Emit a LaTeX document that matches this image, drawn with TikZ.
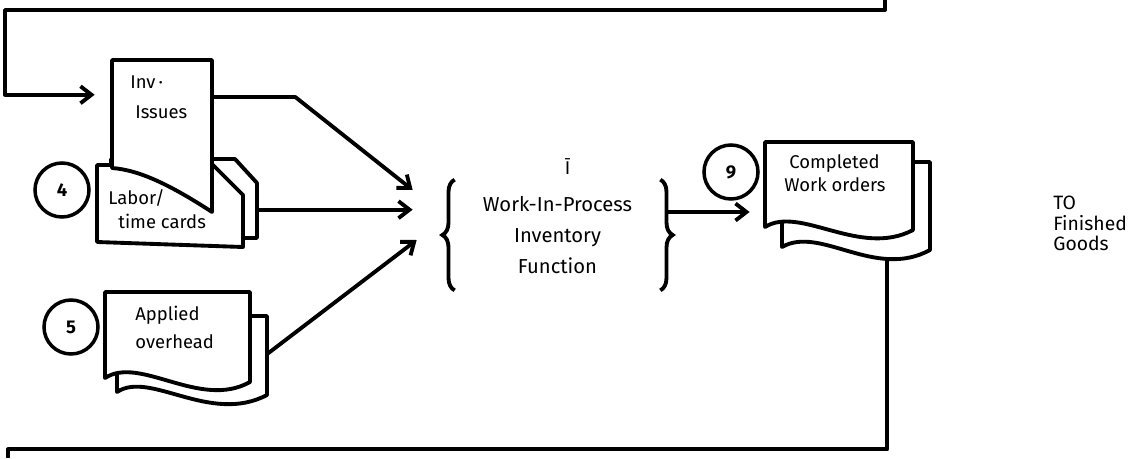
\documentclass[tikz,border=0pt]{standalone}
\usepackage{fontspec}
\setmainfont{Fira Sans}
\usetikzlibrary{positioning,arrows.meta,calc,decorations.pathreplacing}
\tikzset{
  doc-frame/.style={draw=none,inner sep=0pt},
  doc-sheet/.style={draw=black,line width=2.2pt,fill=white,line join=round},
  doc-text/.style={align=left,anchor=north west,inner sep=0pt,
    font=\fontsize{10.5}{14}\selectfont},
  ref-circle/.style={draw,circle,line width=2pt,minimum size=10.8mm,
    inner sep=0pt,font=\fontsize{10.5}{12}\selectfont\bfseries},
  flow-line/.style={line width=2.2pt,line join=round},
  flow-arrow/.style={flow-line,-{Straight Barb[length=2.2mm,width=3.4mm]}},
  brace-line/.style={decorate,decoration={brace,amplitude=7pt},line width=2.2pt},
}
\begin{document}
\begin{tikzpicture}[x=0.2mm,y=-0.2mm]
  \useasboundingbox (0,0) rectangle (1140,458);
  % sheets (back ones first)
  \draw[doc-sheet] (111,159) -- (235,159) -- (257,183) -- (257,238) -- (111,238) -- cycle;
  \draw[doc-sheet] (97,165) -- (213,165) -- (243,195) -- (243,247) -- (97,242) -- cycle;
  \draw[doc-sheet] (112,60) -- (212,60) -- (212,212)
    .. controls (172,186) and (140,170) .. (112,168) -- cycle;
  \draw[doc-sheet] (117,316) -- (267,316) -- (267,395)
    .. controls (210,425) and (150,370) .. (117,392) -- cycle;
  \draw[doc-sheet] (105,292) -- (250,292) -- (250,382)
    .. controls (200,410) and (140,355) .. (105,378) -- cycle;
  \draw[doc-sheet] (782,162) -- (930,162) -- (930,250)
    .. controls (875,280) and (820,225) .. (782,247) -- cycle;
  \draw[doc-sheet] (765,142) -- (913,142) -- (913,230)
    .. controls (860,258) and (800,205) .. (765,227) -- cycle;

  \node[doc-frame,minimum width=20mm,minimum height=30.4mm] (inv) at (162,136) {};
  \node[doc-frame,minimum width=32mm,minimum height=17.8mm] (labor) at (177,202.5) {};
  \node[doc-frame,minimum width=32.4mm,minimum height=20.6mm] (ovh) at (186,343.5) {};
  \node[doc-frame,minimum width=33mm,minimum height=23.4mm] (cwo) at (847.5,200.5) {};
  \node[minimum width=41mm,minimum height=22mm,align=center,inner sep=0pt,
    font=\fontsize{11.5}{17.5}\selectfont] (wip) at (557.5,235)
    {Work-In-Process\\Inventory\\Function};

  \node[doc-text] (inv-text) at (130,75) {Inv\,·\\[1.2mm]\hspace{1mm}Issues};
  \node[doc-text] (labor-text) at (108,189) {Labor/\\\hspace{2mm}time cards};
  \node[doc-text,font=\fontsize{10.5}{16}\selectfont] (ovh-text) at (135,306)
    {Applied\\overhead};
  \node[doc-text,font=\fontsize{10.5}{13.5}\selectfont] (cwo-text) at (784,154)
    {\hspace{1mm}Completed\\Work orders};
  \node[doc-text,font=\fontsize{11}{11.5}\selectfont] (fg-text) at (1053,196)
    {TO\\Finished\\Goods};
  \node[font=\fontsize{10.5}{12}\selectfont] (wip-ref) at ($(wip.north)+(10,-13)$) {\=I};

  \node[ref-circle] (ref-4) at (62,190) {4};
  \node[ref-circle] (ref-5) at (71,327) {5};
  \node[ref-circle] (ref-9) at (731,172) {9};

  \draw[brace-line] (wip.south west) -- (wip.north west);
  \draw[brace-line] (wip.north east) -- (wip.south east);

  \coordinate (fb-top) at (885,0);
  \coordinate (fb-corner) at (5,10);
  \coordinate (fg-out) at (8,458);
  \coordinate (wip-in-1) at ($(wip.west)+(-42,-45)$);
  \coordinate (wip-in-2) at ($(wip.west)+(-42,-25)$);
  \coordinate (wip-in-3) at ($(wip.west)+(-38,5)$);

  \draw[flow-arrow,shorten >=3.4mm] (fb-top) |- (fb-corner)
    |- ($(inv.north west)!0.23!(inv.south west)$);
  \draw[flow-arrow] ($(inv.north east)!0.245!(inv.south east)$) -- ++(83,0) -- (wip-in-1);
  \draw[flow-arrow] ($(labor.north east)!0.58!(labor.south east)$) coordinate (labor-out)
    -- (labor-out -| wip-in-2);
  \draw[flow-arrow] ($(ovh.north east)!0.6!(ovh.south east)$) -- (wip-in-3);
  \draw[flow-arrow,shorten >=3mm] ($(wip.east)+(6,-23)$) coordinate (wip-out)
    -- (wip-out -| cwo.west);
  \draw[flow-line] ($(cwo.south west)!0.74!(cwo.south east)$) -- ++(0,190) -| (fg-out);
\end{tikzpicture}
\end{document}
